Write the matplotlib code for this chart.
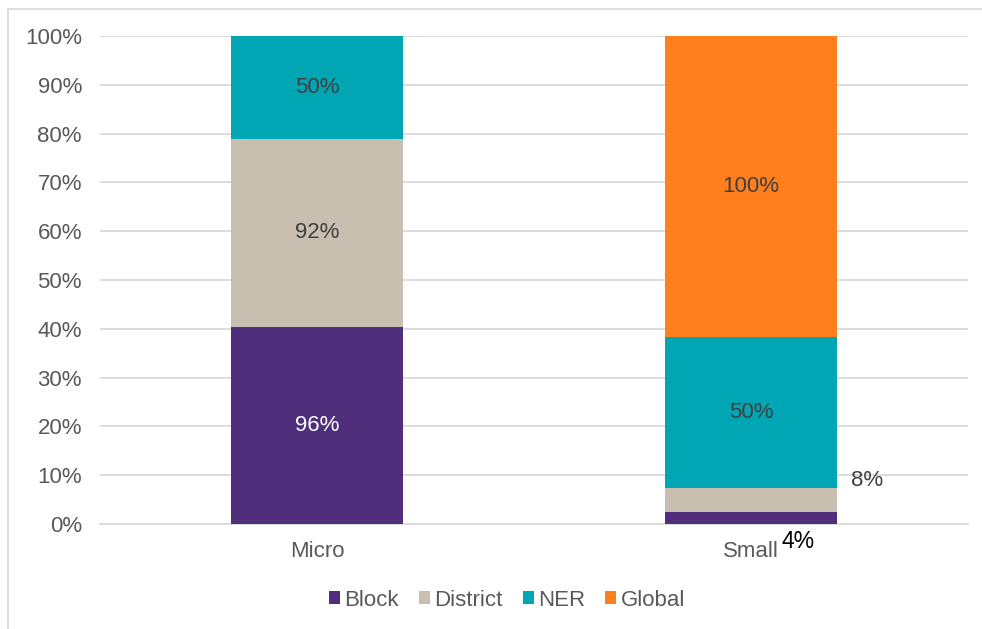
import matplotlib
matplotlib.use("Agg")
import matplotlib.pyplot as plt
from matplotlib.patches import Rectangle
import numpy as np

plt.rcParams['font.family'] = ['Liberation Sans', 'DejaVu Sans']

categories = ["Micro", "Small"]
series_names = ["Block", "District", "NER", "Global"]
block = [96, 4]
district = [92, 8]
ner = [50, 50]
global_ = [0, 100]
colors = ["#4f2f7c", "#c8bfb0", "#00a6b4", "#ff7f1f"]
yticks = [0, 10, 20, 30, 40, 50, 60, 70, 80, 90, 100]

W, H = 982, 629
FS = 16
fig = plt.figure(figsize=(W/100, H/100), dpi=100)
fig.patch.set_facecolor("white")
fig.add_artist(Rectangle((8/W, -0.05), 1.2, 1.05 - 9/H, transform=fig.transFigure,
                         fill=False, edgecolor="#d9d9d9", lw=1.2))

ax = fig.add_axes([100/W, 1 - 524/H, (968-100)/W, (524-36)/H])

data = np.array([block, district, ner, global_], dtype=float)
totals = data.sum(axis=0)
pct = data / totals * 100

x = np.arange(len(categories))
bottom = np.zeros(len(categories))
bw = 0.396
label_colors = ["white", "#404040", "#404040", "#404040"]
for i, name in enumerate(series_names):
    ax.bar(x, pct[i], bw, bottom=bottom, color=colors[i], label=name, zorder=3)
    for j in range(len(categories)):
        if data[i, j] == 0:
            continue
        mid = bottom[j] + pct[i, j] / 2
        txt = f"{int(data[i, j])}%"
        if pct[i, j] >= 10:
            ax.text(x[j], mid, txt, ha="center", va="center", fontsize=FS,
                    color=label_colors[i], zorder=4)
    bottom += pct[i]

# small segment labels on Small bar (placed outside)
ax.text(x[1] + bw/2 + 0.07, pct[0, 1] + pct[1, 1] + 1.5, f"{int(district[1])}%",
        ha="center", va="center", fontsize=FS, color="#404040", zorder=4)
ax.text(x[1] + 0.108, -3.5, f"{int(block[1])}%", ha="center", va="center",
        fontsize=FS + 0.5, color="black", zorder=4, clip_on=False)

ax.set_xlim(-0.5, 1.5)
ax.set_ylim(0, 100)
ax.set_yticks(yticks)
ax.set_yticklabels([f"{v}%" for v in yticks])
ax.set_xticks(x)
ax.set_xticklabels(categories)
ax.tick_params(axis="both", length=0, labelsize=FS, labelcolor="#595959")
ax.tick_params(axis="y", pad=13)
ax.tick_params(axis="x", pad=12)
ax.grid(axis="y", color="#d9d9d9", lw=1.3, zorder=0)
for s in ["top", "right", "left"]:
    ax.spines[s].set_visible(False)
ax.spines["bottom"].set_color("#d9d9d9")
ax.spines["bottom"].set_linewidth(1.3)

leg = fig.legend(loc="center", bbox_to_anchor=(507/W, 1 - 600/H), ncol=4,
                 frameon=False, fontsize=FS, handlelength=0.5, handleheight=0.5,
                 handletextpad=0.2, columnspacing=0.9)
for t in leg.get_texts():
    t.set_color("#595959")

fig.savefig("out.png", dpi=100)
